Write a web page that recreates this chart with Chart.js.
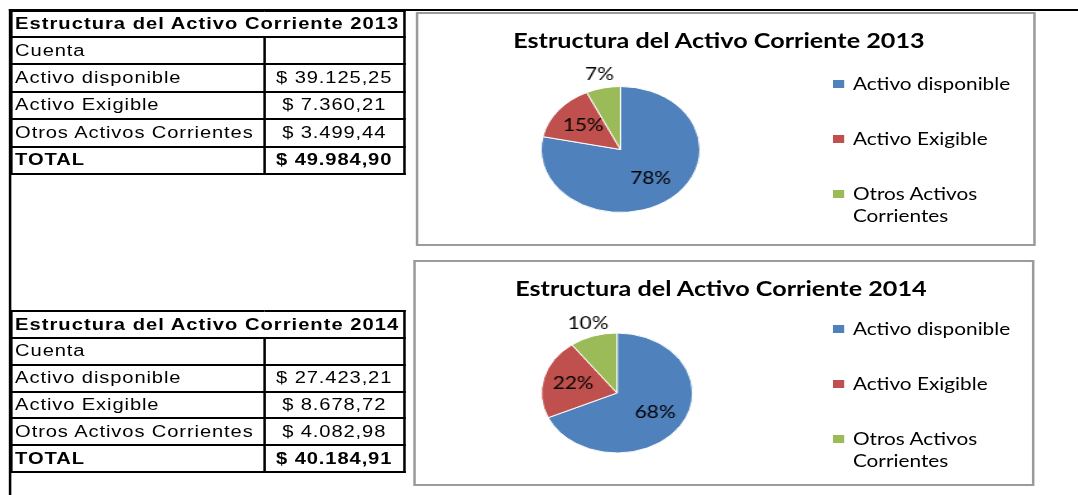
<!DOCTYPE html>
<html lang="es">
<head>
<meta charset="utf-8">
<title>Estructura del Activo Corriente</title>
<script src="https://cdn.jsdelivr.net/npm/chart.js@4.4.1/dist/chart.umd.min.js"></script>
<style>
  html, body { margin: 0; padding: 0; background: #fff; overflow: hidden; }
  /* the reference is stretched horizontally, so the page is laid out narrow and widened */
  #page { position: relative; width: 856px; height: 495px; transform: scaleX(1.26); transform-origin: 0 0; }
  .rule-top { position: absolute; left: 7px; top: 9px; width: 849px; height: 2px; background: #000; }
  .rule-left { position: absolute; left: 7px; top: 9px; width: 2px; height: 486px; background: #000; }
  .tabla { position: absolute; left: 8px; border-collapse: collapse; table-layout: fixed; width: 311.5px;
           font-family: 'Liberation Sans', Arial, sans-serif; font-size: 16px; letter-spacing: 0.7px; color: #000; }
  .tabla td { border: 2px solid #000; padding: 0 0 0 2px; white-space: nowrap; overflow: hidden; line-height: 18px; }
  .tabla td.valor { text-align: center; padding: 0; }
  .tabla tr.titulo td { letter-spacing: 0.8px; }
  .tabla .neg { font-weight: bold; }
  .box { position: absolute; box-sizing: border-box; border: 2px solid #9b9b9b; background: #fff; }
  canvas { position: absolute; }
  .titulo-graf { position: absolute; width: 420px; text-align: center; font-family: Lato, sans-serif;
                 font-weight: bold; font-size: 20px; line-height: 24px; color: #000; white-space: nowrap; }
  .leyenda { position: absolute; left: 661px; font-family: Lato, sans-serif; font-size: 16.5px; line-height: 22px; color: #000; }
  .leyenda .item { display: flex; align-items: flex-start; height: 55px; }
  .leyenda .marca { flex: none; width: 8.5px; height: 8px; margin-top: 7px; margin-right: 7.4px; }
</style>
</head>
<body>
<div id="page">
  <div class="box" style="left:330px; top:12px; width:492px; height:234px;"></div>
  <div class="box" style="left:328px; top:260px; width:493px; height:226px;"></div>
  <div class="titulo-graf" id="titulo2013" style="left:360.6px; top:28.4px;"></div>
  <div class="titulo-graf" id="titulo2014" style="left:362.2px; top:276.4px;"></div>
  <canvas id="pie2013" width="492" height="234" style="left:330px; top:12px;"></canvas>
  <canvas id="pie2014" width="493" height="226" style="left:328px; top:260px;"></canvas>
  <div class="leyenda" id="leyenda2013" style="top:73px;"></div>
  <div class="leyenda" id="leyenda2014" style="top:318px;"></div>
  <table class="tabla" id="tabla2013" style="top:10px;"></table>
  <table class="tabla" id="tabla2014" style="top:310px;"></table>
  <div class="rule-top"></div>
  <div class="rule-left"></div>
</div>
<script>
const cuentas = ['Activo disponible', 'Activo Exigible', 'Otros Activos Corrientes'];
const leyendaLineas = [['Activo disponible'], ['Activo Exigible'], ['Otros Activos', 'Corrientes']];
const valores2013 = [39125.25, 7360.21, 3499.44];
const valores2014 = [27423.21, 8678.72, 4082.98];
const colores = ['#4F81BD', '#C0504D', '#9BBB59'];
const tituloBase = 'Estructura del Activo Corriente ';

function formatoMoneda(v) {
  const partes = v.toFixed(2).split('.');
  return '$ ' + partes[0].replace(/\B(?=(\d{3})+(?!\d))/g, '.') + ',' + partes[1];
}

function crearTabla(id, anio, valores, alturas) {
  const total = valores.reduce((a, b) => a + b, 0);
  let html = '<colgroup><col style="width:201px"><col style="width:110.5px"></colgroup>';
  html += `<tr class="titulo" style="height:${alturas[0]}px"><td colspan="2" class="neg">${tituloBase}${anio}</td></tr>`;
  html += `<tr style="height:${alturas[1]}px"><td>Cuenta</td><td></td></tr>`;
  cuentas.forEach((c, i) => {
    html += `<tr style="height:${alturas[1]}px"><td>${c}</td><td class="valor">${formatoMoneda(valores[i])}</td></tr>`;
  });
  html += `<tr style="height:${alturas[1]}px"><td class="neg">TOTAL</td><td class="valor neg">${formatoMoneda(total)}</td></tr>`;
  document.getElementById(id).innerHTML = html;
}

function crearLeyenda(id) {
  const cont = document.getElementById(id);
  leyendaLineas.forEach((lineas, i) => {
    const item = document.createElement('div');
    item.className = 'item';
    item.innerHTML = `<span class="marca" style="background:${colores[i]}"></span><span>${lineas.join('<br>')}</span>`;
    cont.appendChild(item);
  });
}

// percentage labels: inside the big slices, just outside the small ones
const etiquetasPct = {
  id: 'etiquetasPct',
  afterDatasetsDraw(chart) {
    const ctx = chart.ctx;
    const valores = chart.data.datasets[0].data;
    const total = valores.reduce((a, b) => a + b, 0);
    ctx.save();
    ctx.font = '16.5px Lato';
    ctx.fillStyle = '#000';
    ctx.textAlign = 'center';
    ctx.textBaseline = 'middle';
    chart.getDatasetMeta(0).data.forEach((arc, i) => {
      const p = arc.getProps(['x', 'y', 'startAngle', 'endAngle', 'outerRadius'], true);
      const parte = valores[i] / total;
      const medio = (p.startAngle + p.endAngle) / 2;
      const dist = parte <= 0.105 ? p.outerRadius * 1.22 : p.outerRadius * 0.6;
      ctx.fillText(Math.round(parte * 100) + '%', p.x + Math.cos(medio) * dist, p.y + Math.sin(medio) * dist);
    });
    ctx.restore();
  },
};

// pads the chart area so that its centre (the pie centre) lands on cx, cy
function crearPie(id, valores, g) {
  const canvas = document.getElementById(id);
  const w = canvas.width;
  const h = canvas.height;
  const mx = Math.min(g.cx, w - g.cx);
  const my = Math.min(g.cy, h - g.cy);
  new Chart(canvas, {
    type: 'pie',
    data: {
      labels: cuentas,
      datasets: [{
        data: valores,
        backgroundColor: colores,
        borderColor: '#ffffff',
        borderWidth: 1,
        radius: g.r,
      }],
    },
    options: {
      responsive: false,
      animation: false,
      layout: {
        padding: { left: g.cx - mx, right: w - g.cx - mx, top: g.cy - my, bottom: h - g.cy - my },
      },
      plugins: {
        legend: { display: false },
        tooltip: { enabled: false },
        title: { display: false },
      },
    },
    plugins: [etiquetasPct],
  });
}

document.getElementById('titulo2013').textContent = tituloBase + 2013;
document.getElementById('titulo2014').textContent = tituloBase + 2014;
crearTabla('tabla2013', 2013, valores2013, [26, 27.4]);
crearTabla('tabla2014', 2014, valores2014, [27, 26.8]);
crearLeyenda('leyenda2013');
crearLeyenda('leyenda2014');
crearPie('pie2013', valores2013, { cx: 162.5, cy: 137.5, r: 63 });
crearPie('pie2014', valores2014, { cx: 161.7, cy: 133, r: 60 });
</script>
</body>
</html>
